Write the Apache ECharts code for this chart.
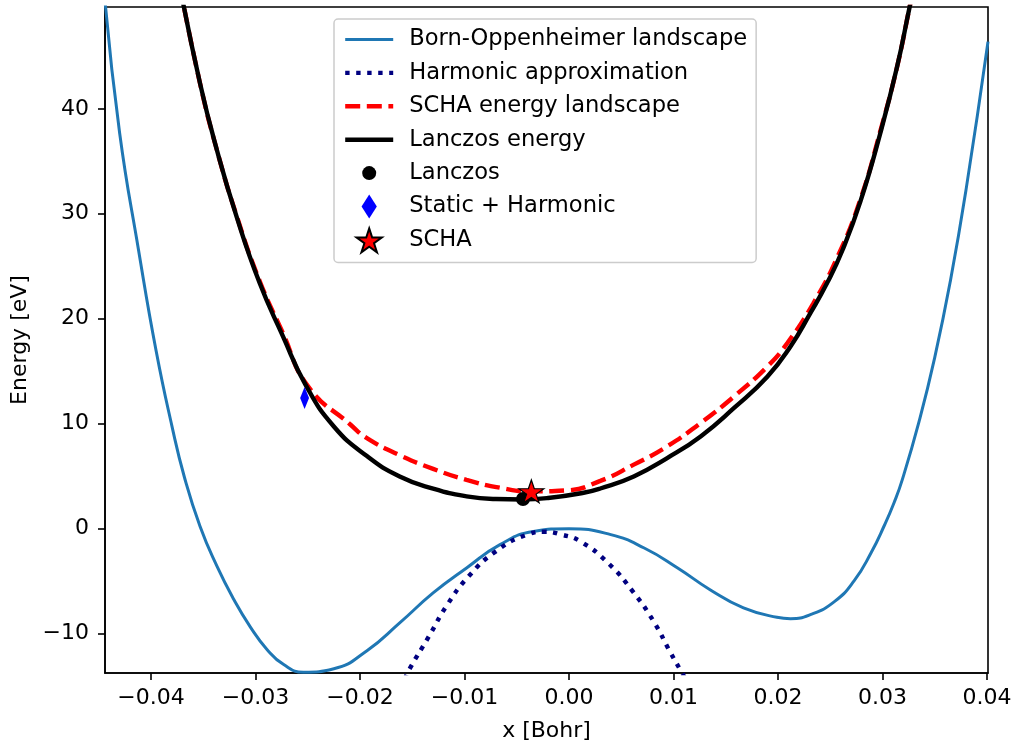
<!DOCTYPE html>
<html>
<head>
<meta charset="utf-8">
<script src="https://cdn.jsdelivr.net/npm/echarts@6/dist/echarts.min.js"></script>
<style>
html,body{margin:0;padding:0;background:#fff;}
#chart{width:1013px;height:742px;}
</style>
</head>
<body>
<div id="chart"></div>
<script>
// ---- data ----
const xTicks = [-0.04, -0.03, -0.02, -0.01, 0.00, 0.01, 0.02, 0.03, 0.04];
const yTicks = [-10, 0, 10, 20, 30, 40];

const bornOppenheimer = [
  [-0.0444, 50.3], [-0.0430, 37.7], [-0.0412, 26.6], [-0.0395, 16.9], [-0.0380, 9.8],
  [-0.0368, 4.9], [-0.0353, 0.2], [-0.0337, -3.55], [-0.0321, -6.7], [-0.0305, -9.35],
  [-0.0289, -11.5], [-0.0273, -12.95], [-0.0254, -13.68], [-0.0225, -13.35], [-0.0193, -11.6],
  [-0.0162, -8.98], [-0.0130, -6.12], [-0.0098, -3.74], [-0.0066, -1.52], [-0.0034, -0.26],
  [0.0000, 0.0], [0.0040, -0.57], [0.0072, -1.84], [0.0104, -3.74], [0.0135, -5.81],
  [0.0167, -7.55], [0.0199, -8.44], [0.0212, -8.57], [0.0231, -8.19], [0.0254, -6.95],
  [0.0273, -4.95], [0.0289, -2.32], [0.0302, 0.35], [0.0311, 2.45], [0.0319, 4.67],
  [0.0335, 10.2], [0.0350, 16.3], [0.0365, 23.6], [0.0380, 32.3], [0.0401, 46.4]
];

const harmonic = [
  [-0.0157, -14.3], [-0.0152, -13.27], [-0.0134, -10.26], [-0.0117, -7.33], [-0.0096, -4.54],
  [-0.0070, -2.16], [-0.0040, -0.57], [-0.0023, -0.29], [-0.0007, -0.57], [0.0011, -1.21],
  [0.0038, -3.33], [0.0061, -5.97], [0.0081, -8.83], [0.0097, -11.78], [0.0106, -13.36],
  [0.0112, -14.4]
];

const schaLandscape = [
  [-0.0372, 51.5], [-0.0353, 42.4], [-0.0337, 36.1], [-0.0318, 29.8], [-0.0296, 23.6],
  [-0.0274, 18.7], [-0.0250, 13.6], [-0.0209, 9.9], [-0.0193, 8.6], [-0.0162, 7.0],
  [-0.0130, 5.7], [-0.0098, 4.65], [-0.0066, 3.9], [-0.0036, 3.55], [-0.0002, 3.65],
  [0.0030, 4.55], [0.0062, 6.1], [0.0094, 7.84], [0.0126, 10.07], [0.0158, 12.6],
  [0.0190, 15.46], [0.0209, 17.69], [0.0234, 21.5], [0.0257, 25.9], [0.0279, 31.4],
  [0.0298, 37.9], [0.0314, 44.0], [0.0326, 49.7], [0.0331, 52.0]
];

const lanczosEnergy = [
  [-0.0372, 51.5], [-0.0353, 42.4], [-0.0337, 36.1], [-0.0318, 29.7], [-0.0296, 23.4],
  [-0.0274, 18.4], [-0.0252, 13.7], [-0.0225, 9.74], [-0.0193, 6.89], [-0.0162, 4.98],
  [-0.0130, 3.81], [-0.0098, 3.08], [-0.0070, 2.82], [-0.0045, 2.78], [-0.0020, 2.92],
  [0.0014, 3.42], [0.0030, 3.83], [0.0062, 4.98], [0.0094, 6.73], [0.0126, 8.79],
  [0.0158, 11.5], [0.0190, 14.5], [0.0212, 17.36], [0.0231, 20.54], [0.0247, 23.4],
  [0.0262, 26.6], [0.0279, 31.2], [0.0298, 37.7], [0.0314, 44.0], [0.0326, 49.7],
  [0.0331, 52.0]
];

const lanczosPoint = [[-0.0044, 2.83]];
const staticHarmonicPoint = [[-0.0253, 12.45]];
const schaPoint = [[-0.0036, 3.55]];

const xRange = [-0.0444, 0.0401];
const yRange = [-13.75, 49.7];

// ---- chart ----
const FONT = 'DejaVu Sans';
const STAR = 'path://M0,-100 L22.45,-30.9 L95.11,-30.9 L36.33,11.8 L58.78,80.9 L0,38.2 L-58.78,80.9 L-36.33,11.8 L-95.11,-30.9 L-22.45,-30.9 Z';
const DIAMOND = 'path://M0,-11 L7,0 L0,11 L-7,0 Z';
const LEGEND_DOT = 'path://M-12,-12 M12,12 M0,-7 A7,7 0 1,1 0,7 A7,7 0 1,1 0,-7 Z';
const minusFmt = (s) => String(s).replace('-', '\u2212');
const hideSym = {opacity: 0};
const SMOOTH = 0.5;

const chart = echarts.init(document.getElementById('chart'), null, {renderer: 'canvas'});
chart.setOption({
  animation: false,
  backgroundColor: '#fff',
  textStyle: {fontFamily: FONT},
  grid: {left: 105, right: 25, top: 7, bottom: 69, outerBoundsMode: 'none', containLabel: false,
    show: true, borderColor: '#000', borderWidth: 1.6, backgroundColor: 'transparent'},
  legend: {
    orient: 'vertical',
    left: 334, top: 19,
    padding: [8, 9, 9, 9],
    itemWidth: 48, itemHeight: 24, itemGap: 8.4,
    backgroundColor: '#fff',
    borderColor: '#cccccc', borderWidth: 1.5, borderRadius: 4,
    textStyle: {fontFamily: FONT, fontSize: 22.6, color: '#000', lineHeight: 25, padding: [0, 0, 0, 11]},
    data: [
      {name: 'Born-Oppenheimer landscape', itemStyle: hideSym, lineStyle: {color: '#1f77b4', width: 3}},
      {name: 'Harmonic approximation', itemStyle: hideSym, lineStyle: {color: '#000080', width: 4.4, type: [4.4, 6.6], cap: 'butt'}},
      {name: 'SCHA energy landscape', itemStyle: hideSym, lineStyle: {color: '#ff0000', width: 4.4, type: [15, 6.6], cap: 'butt'}},
      {name: 'Lanczos energy', itemStyle: hideSym, lineStyle: {color: '#000', width: 4.4}},
      {name: 'Lanczos', icon: LEGEND_DOT},
      {name: 'Static + Harmonic'},
      {name: 'SCHA'}
    ]
  },
  xAxis: {
    type: 'value', min: xRange[0], max: xRange[1],
    name: 'x [Bohr]', nameLocation: 'middle', nameGap: 47,
    nameTextStyle: {fontFamily: FONT, fontSize: 22, color: '#000'},
    axisLine: {show: true, onZero: false, lineStyle: {color: '#000', width: 1.6}},
    axisTick: {show: true, inside: false, length: 7, lineStyle: {color: '#000', width: 1.6}, customValues: xTicks},
    axisLabel: {fontFamily: FONT, fontSize: 22, color: '#000', margin: 14, customValues: xTicks,
      formatter: (v) => minusFmt(v.toFixed(2))},
    splitLine: {show: false}
  },
  yAxis: {
    type: 'value', min: yRange[0], max: yRange[1],
    name: 'Energy [eV]', nameLocation: 'middle', nameGap: 74, nameRotate: 90,
    nameTextStyle: {fontFamily: FONT, fontSize: 22, color: '#000'},
    axisLine: {show: true, onZero: false, lineStyle: {color: '#000', width: 1.6}},
    axisTick: {show: true, inside: false, length: 7, lineStyle: {color: '#000', width: 1.6}, customValues: yTicks},
    axisLabel: {fontFamily: FONT, fontSize: 22, color: '#000', margin: 16, customValues: yTicks,
      formatter: (v) => minusFmt(String(Math.round(v)))},
    splitLine: {show: false}
  },
  series: [
    {name: 'Born-Oppenheimer landscape', type: 'line', data: bornOppenheimer, smooth: SMOOTH,
      symbol: 'none', clip: true, z: 2, lineStyle: {color: '#1f77b4', width: 3}, itemStyle: {color: '#1f77b4'}},
    {name: 'Harmonic approximation', type: 'line', data: harmonic, smooth: SMOOTH,
      symbol: 'none', clip: true, z: 3, lineStyle: {color: '#000080', width: 4.4, type: [4.4, 6.6], cap: 'butt'}, itemStyle: {color: '#000080'}},
    {name: 'SCHA energy landscape', type: 'line', data: schaLandscape, smooth: SMOOTH,
      symbol: 'none', clip: true, z: 4, lineStyle: {color: '#ff0000', width: 4.4, type: [15, 6.6], cap: 'butt'}, itemStyle: {color: '#ff0000'}},
    {name: 'Lanczos energy', type: 'line', data: lanczosEnergy, smooth: SMOOTH,
      symbol: 'none', clip: true, z: 5, lineStyle: {color: '#000', width: 4.4}, itemStyle: {color: '#000'}},
    {name: 'Lanczos', type: 'scatter', data: lanczosPoint, symbol: 'circle', symbolSize: 14, z: 6,
      itemStyle: {color: '#000', opacity: 1}},
    {name: 'Static + Harmonic', type: 'scatter', data: staticHarmonicPoint, symbol: DIAMOND, symbolSize: [14, 22],
      symbolKeepAspect: true, z: 6, itemStyle: {color: '#0000ff', opacity: 1}},
    {name: 'SCHA', type: 'scatter', data: schaPoint, symbol: STAR, symbolSize: [25, 24], symbolKeepAspect: true, z: 7,
      itemStyle: {color: '#ff0000', borderColor: '#000', borderWidth: 1.2, opacity: 1}}
  ]
});
</script>
</body>
</html>
